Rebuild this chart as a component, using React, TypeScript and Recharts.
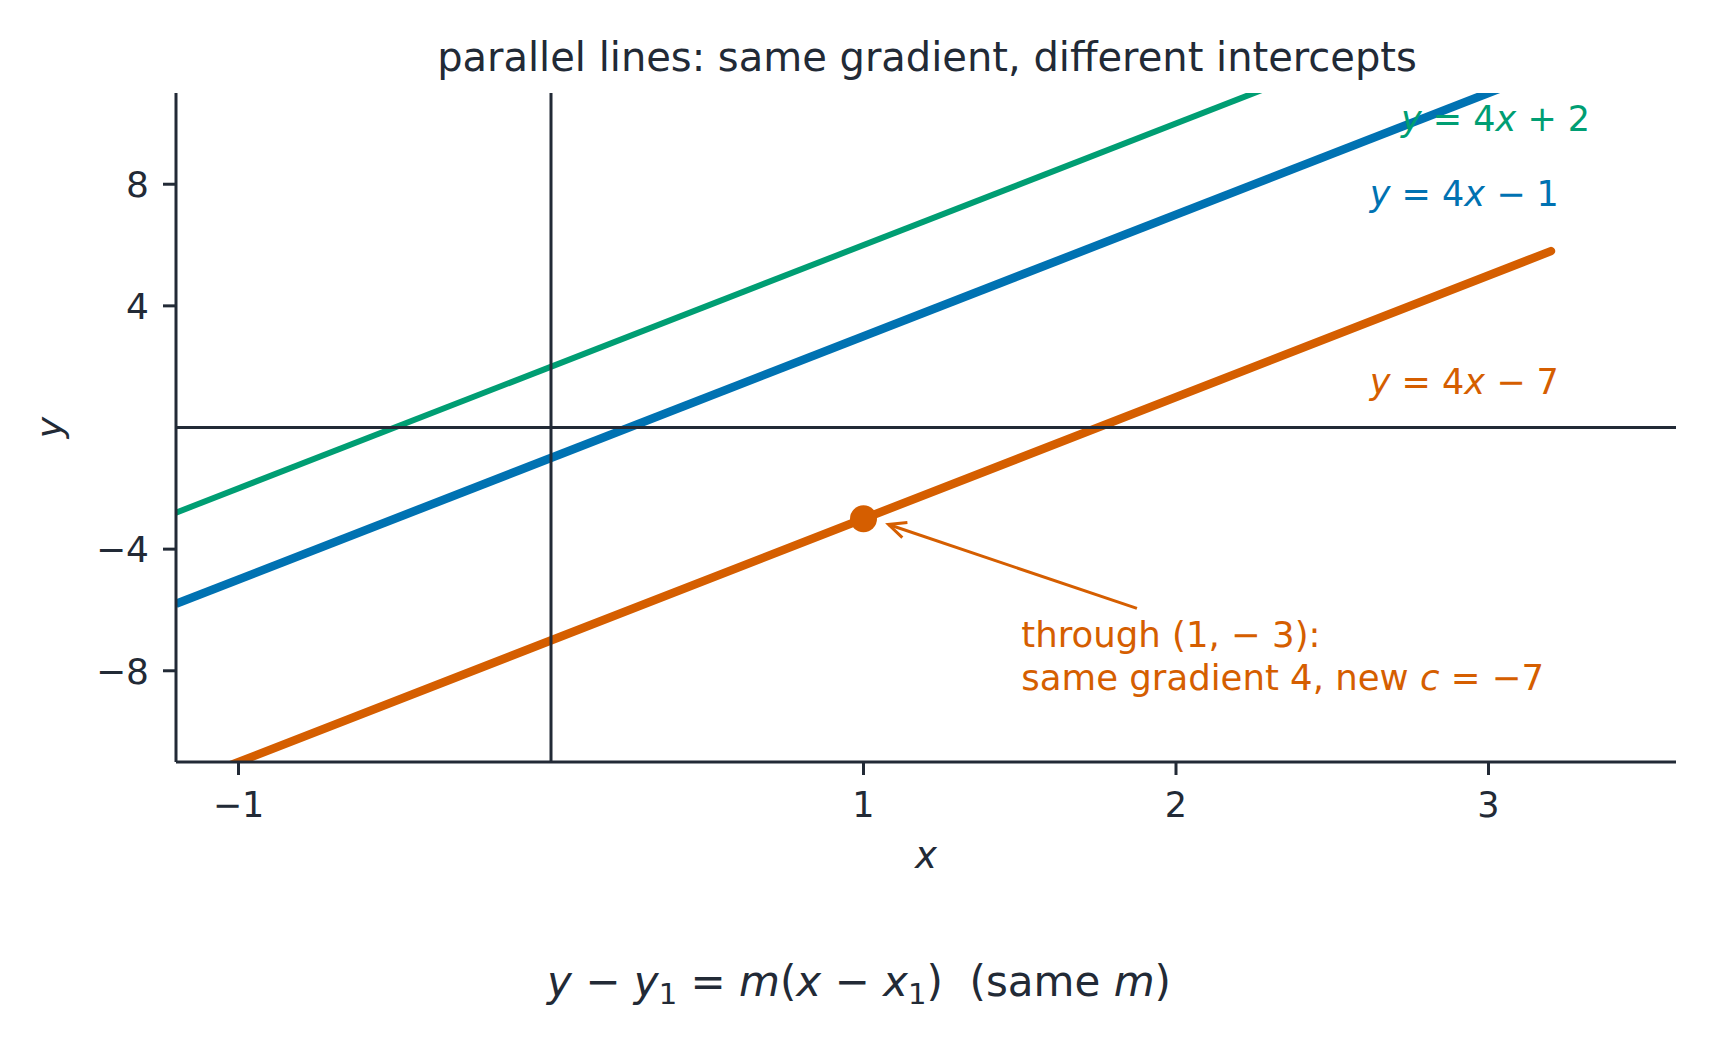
import React from 'react';
import {
  ComposedChart,
  Line,
  XAxis,
  YAxis,
  ReferenceLine,
  ReferenceDot,
  Scatter,
  Label,
} from 'recharts';

const W = 1718;
const H = 1053;
const INK = '#222a36';
const GREEN = '#009E73';
const BLUE = '#0072B2';
const ORANGE = '#D55E00';
const FONT = '"DejaVu Sans", "Noto Sans", sans-serif';

// axes
const xDomain = [-1.2, 3.6];
const yDomain = [-11, 11];
const xTicks = [-1, 1, 2, 3];
const yTicks = [-8, -4, 4, 8];

// series (end points)
const greenLine = [
  { x: -1.2, y: -2.8 },
  { x: 3.2, y: 14.8 },
];
const blueLine = [
  { x: -1.2, y: -5.8 },
  { x: 3.2, y: 11.8 },
];
const orangeLine = [
  { x: -1.2, y: -11.8 },
  { x: 3.2, y: 5.8 },
];
const throughPoint = [{ x: 1, y: -3 }];

// annotation anchors (data coordinates)
const arrowTail = { x: 1.875, y: -5.95 };
const arrowHead = { x: 1.08, y: -3.19 };
const noteAnchor = { x: 1.505, y: -7.22 };

type Part = { t: string; i?: boolean };
const lineLabels: { x: number; y: number; color: string; parts: Part[] }[] = [
  { x: 2.72, y: 9.74, color: GREEN, parts: [{ t: 'y', i: true }, { t: ' = 4' }, { t: 'x', i: true }, { t: ' + 2' }] },
  { x: 2.62, y: 7.27, color: BLUE, parts: [{ t: 'y', i: true }, { t: ' = 4' }, { t: 'x', i: true }, { t: ' − 1' }] },
  { x: 2.62, y: 1.09, color: ORANGE, parts: [{ t: 'y', i: true }, { t: ' = 4' }, { t: 'x', i: true }, { t: ' − 7' }] },
];

const fmt = (v: number) => (v < 0 ? `−${Math.abs(v)}` : `${v}`);

const ArrowShape = (p: any) => {
  const { x1, y1, x2, y2 } = p;
  const back = Math.atan2(y1 - y2, x1 - x2);
  const L = 19;
  const s = 0.43;
  const ax = x2 + L * Math.cos(back - s);
  const ay = y2 + L * Math.sin(back - s);
  const bx = x2 + L * Math.cos(back + s);
  const by = y2 + L * Math.sin(back + s);
  return (
    <g>
      <line x1={x1} y1={y1} x2={x2} y2={y2} stroke={ORANGE} strokeWidth={3} />
      <polyline
        points={`${ax},${ay} ${x2},${y2} ${bx},${by}`}
        fill="none"
        stroke={ORANGE}
        strokeWidth={3}
        strokeLinejoin="miter"
      />
    </g>
  );
};

const makeLabelShape = (color: string, parts: Part[]) => (p: any) => (
  <text
    x={p.cx}
    y={p.cy}
    fill={color}
    fontSize={35}
    fontFamily={FONT}
    textAnchor="start"
    style={{ whiteSpace: 'pre' }}
  >
    {parts.map((pt, k) => (
      <tspan key={k} fontStyle={pt.i ? 'italic' : 'normal'}>
        {pt.t}
      </tspan>
    ))}
  </text>
);

const NoteShape = (p: any) => (
  <text x={p.cx} y={p.cy} fill={ORANGE} fontSize={35.5} fontFamily={FONT} style={{ whiteSpace: 'pre' }}>
    <tspan x={p.cx}>through (1, − 3):</tspan>
    <tspan x={p.cx} dy={43}>
      same gradient 4, new{' '}
    </tspan>
    <tspan fontStyle="italic">c</tspan>
    <tspan> = −7</tspan>
  </text>
);

const PointShape = (p: any) => <circle cx={p.cx} cy={p.cy} r={13.5} fill={ORANGE} />;

export default function App() {
  return (
    <div style={{ position: 'absolute', left: 0, top: 0, width: W, height: H, background: '#ffffff' }}>
      <ComposedChart
        width={W}
        height={H}
        margin={{ top: 93, right: 42, bottom: 181, left: 26 }}
      >
        <XAxis
          type="number"
          dataKey="x"
          domain={xDomain}
          ticks={xTicks}
          allowDataOverflow
          height={110}
          tickSize={13}
          tickMargin={17}
          tickFormatter={fmt}
          axisLine={{ stroke: INK, strokeWidth: 3 }}
          tickLine={{ stroke: INK, strokeWidth: 3 }}
          tick={{ fontSize: 35, fill: INK, fontFamily: FONT }}
        >
          <Label
            content={(p: any) => {
              const vb = p.viewBox;
              return (
                <text
                  x={vb.x + vb.width / 2}
                  y={vb.y + 106}
                  textAnchor="middle"
                  fontSize={37}
                  fontStyle="italic"
                  fill={INK}
                  fontFamily={FONT}
                >
                  x
                </text>
              );
            }}
          />
        </XAxis>
        <YAxis
          type="number"
          domain={yDomain}
          ticks={yTicks}
          allowDataOverflow
          width={150}
          tickSize={13}
          tickMargin={14}
          tickFormatter={fmt}
          axisLine={{ stroke: INK, strokeWidth: 3 }}
          tickLine={{ stroke: INK, strokeWidth: 3 }}
          tick={{ fontSize: 36, fill: INK, fontFamily: FONT }}
        >
          <Label
            content={(p: any) => {
              const vb = p.viewBox;
              const lx = vb.x + 35.5;
              const ly = vb.y + vb.height / 2;
              return (
                <text
                  x={lx}
                  y={ly}
                  transform={`rotate(-90, ${lx}, ${ly})`}
                  textAnchor="middle"
                  fontSize={36}
                  fontStyle="italic"
                  fill={INK}
                  fontFamily={FONT}
                >
                  y
                </text>
              );
            }}
          />
        </YAxis>

        <Line data={greenLine} dataKey="y" type="linear" stroke={GREEN} strokeWidth={6} dot={false} activeDot={false} isAnimationActive={false} />
        <Line data={blueLine} dataKey="y" type="linear" stroke={BLUE} strokeWidth={8.5} dot={false} activeDot={false} isAnimationActive={false} />
        <Line
          data={orangeLine}
          dataKey="y"
          type="linear"
          stroke={ORANGE}
          strokeWidth={8.5}
          strokeLinecap="round"
          dot={false}
          activeDot={false}
          isAnimationActive={false}
        />

        <ReferenceLine y={0} stroke={INK} strokeWidth={3} />
        <ReferenceLine x={0} stroke={INK} strokeWidth={3} />

        <Scatter data={throughPoint} dataKey="y" fill={ORANGE} shape={PointShape} isAnimationActive={false} />

        <ReferenceLine segment={[arrowTail, arrowHead]} shape={ArrowShape} />

        {lineLabels.map((l, k) => (
          <ReferenceDot key={k} x={l.x} y={l.y} r={1} shape={makeLabelShape(l.color, l.parts)} />
        ))}
        <ReferenceDot x={noteAnchor.x} y={noteAnchor.y} r={1} shape={NoteShape} />
      </ComposedChart>

      <svg
        width={W}
        height={H}
        style={{ position: 'absolute', left: 0, top: 0, pointerEvents: 'none' }}
      >
        <text x={927} y={71} textAnchor="middle" fontSize={40} fill={INK} fontFamily={FONT}>
          parallel lines: same gradient, different intercepts
        </text>
        <text x={859} y={996} textAnchor="middle" fontSize={42} fill={INK} fontFamily={FONT} style={{ whiteSpace: 'pre' }}>
          <tspan fontStyle="italic">y</tspan>
          <tspan> − </tspan>
          <tspan fontStyle="italic">y</tspan>
          <tspan fontSize={29} dy={8}>1</tspan>
          <tspan dy={-8}> = </tspan>
          <tspan fontStyle="italic">m</tspan>
          <tspan>(</tspan>
          <tspan fontStyle="italic">x</tspan>
          <tspan> − </tspan>
          <tspan fontStyle="italic">x</tspan>
          <tspan fontSize={29} dy={8}>1</tspan>
          <tspan dy={-8}>)  (same </tspan>
          <tspan fontStyle="italic">m</tspan>
          <tspan>)</tspan>
        </text>
      </svg>
    </div>
  );
}
